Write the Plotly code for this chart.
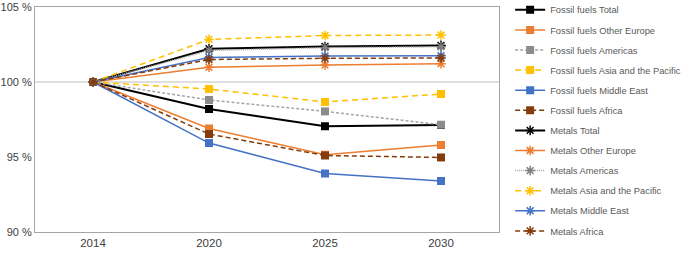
import plotly.graph_objects as go

years = ["2014", "2020", "2025", "2030"]

fossil_total = [100, 98.2, 97.05, 97.13]
fossil_other_europe = [100, 96.9, 95.15, 95.8]
fossil_americas = [100, 98.8, 98.04, 97.15]
fossil_asia_pacific = [100, 99.53, 98.67, 99.2]
fossil_middle_east = [100, 95.93, 93.9, 93.4]
fossil_africa = [100, 96.53, 95.1, 94.97]

metals_total = [100, 102.22, 102.37, 102.44]
metals_other_europe = [100, 100.98, 101.13, 101.22]
metals_americas = [100, 102.1, 102.29, 102.35]
metals_asia_pacific = [100, 102.84, 103.1, 103.13]
metals_middle_east = [100, 101.64, 101.73, 101.75]
metals_africa = [100, 101.5, 101.58, 101.6]

y_ticks = [90, 95, 100, 105]
y_tick_labels = ["90 %", "95 %", "100 %", "105 %"]

series = [
    ("Fossil fuels Total", fossil_total, "#000000", "#000000", "solid", "square"),
    ("Fossil fuels Other Europe", fossil_other_europe, "#ED7D31", "#ED7D31", "solid", "square"),
    ("Fossil fuels Americas", fossil_americas, "#A5A5A5", "#8C8C8C", "3px,2px", "square"),
    ("Fossil fuels Asia and the Pacific", fossil_asia_pacific, "#FFC000", "#FFC000", "6px,4px", "square"),
    ("Fossil fuels Middle East", fossil_middle_east, "#4472C4", "#4472C4", "solid", "square"),
    ("Fossil fuels Africa", fossil_africa, "#843C0C", "#843C0C", "5px,3px", "square"),
    ("Metals Total", metals_total, "#000000", "#000000", "solid", "asterisk-open"),
    ("Metals Other Europe", metals_other_europe, "#ED7D31", "#ED7D31", "solid", "asterisk-open"),
    ("Metals Americas", metals_americas, "#A5A5A5", "#7F7F7F", "1px,1px", "asterisk-open"),
    ("Metals Asia and the Pacific", metals_asia_pacific, "#FFC000", "#FFC000", "6px,4px", "asterisk-open"),
    ("Metals Middle East", metals_middle_east, "#4472C4", "#4472C4", "solid", "asterisk-open"),
    ("Metals Africa", metals_africa, "#843C0C", "#843C0C", "5px,3px", "asterisk-open"),
]

fig = go.Figure()
for i, (name, vals, lc, mc, dash, sym) in enumerate(series):
    if sym == "square":
        marker = dict(symbol="square", size=8, color=mc)
    else:
        marker = dict(symbol="asterisk-open", size=8, color=mc, line=dict(color=mc, width=1.5))
    fig.add_trace(go.Scatter(
        x=years, y=vals, name=name, mode="lines+markers",
        legendgroup=f"g{i}",
        line=dict(color=lc, width=1.5 if lc != "#000000" else 2, dash=dash),
        marker=marker,
    ))

fig.add_hline(y=100, line=dict(color="#BFBFBF", width=1), layer="below")

fig.update_layout(
    width=685, height=253,
    margin=dict(l=35, r=186, t=7, b=21, autoexpand=False),
    paper_bgcolor="white", plot_bgcolor="white",
    font=dict(family="Liberation Sans, Arial, sans-serif", size=11, color="#595959"),
    showlegend=True,
    legend=dict(
        x=1.024, xanchor="left", y=1.052, yanchor="top",
        font=dict(size=9.3, color="#595959"),
        traceorder="grouped", tracegroupgap=1.1, itemwidth=30,
        bgcolor="rgba(0,0,0,0)", borderwidth=0, maxheight=300,
    ),
    xaxis=dict(
        type="category", range=[-0.5, 3.5], showgrid=False, zeroline=False,
        showline=True, linecolor="#A6A6A6", mirror=True, linewidth=1,
        ticks="", tickfont=dict(size=11.5, color="#404040"),
    ),
    yaxis=dict(
        range=[90, 105], tickvals=y_ticks, ticktext=y_tick_labels,
        showgrid=False, zeroline=False,
        showline=True, linecolor="#A6A6A6", mirror=True, linewidth=1,
        ticks="", tickfont=dict(size=11, color="#404040"),
    ),
)

fig.write_html(
    "out.html",
    config={"displayModeBar": False},
    post_script="document.body.style.margin='0';document.body.style.overflow='hidden';",
)
